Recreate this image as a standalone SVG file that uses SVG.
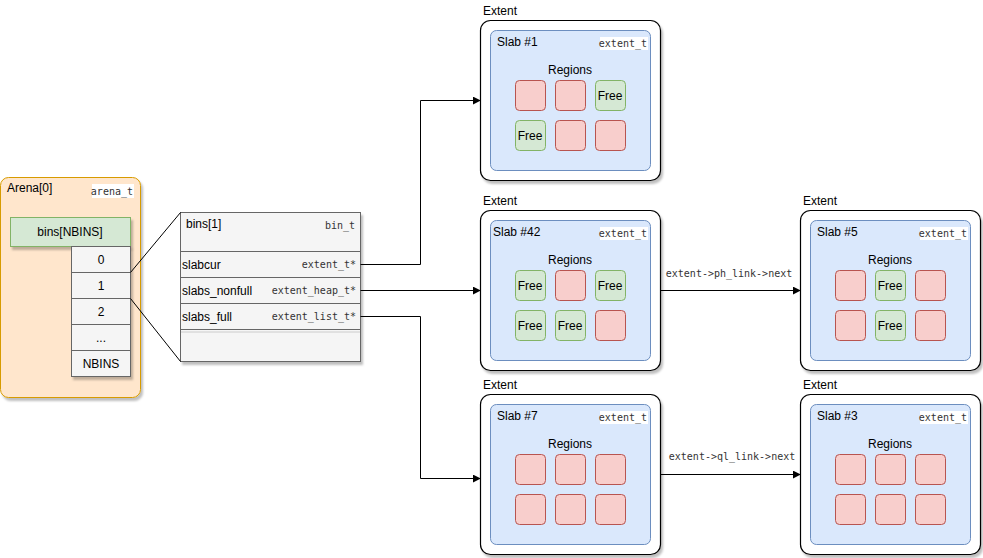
<svg xmlns="http://www.w3.org/2000/svg" width="983" height="558" viewBox="0 0 983 558">
<defs>
<filter id="sh" x="-10%" y="-10%" width="130%" height="130%">
<feDropShadow dx="2" dy="3" stdDeviation="1" flood-color="#000" flood-opacity="0.25"/>
</filter>
<marker id="arr" viewBox="0 0 10 10" refX="9" refY="5" markerWidth="8" markerHeight="8" markerUnits="userSpaceOnUse" orient="auto">
<path d="M0,0 L10,5 L0,10 Z" fill="#000"/>
</marker>
</defs>
<style>
text{font-family:"Liberation Sans",Arial,sans-serif;font-size:12px;fill:#000}
.mono{font-family:"DejaVu Sans Mono","Liberation Mono",monospace;font-size:10px;fill:#333}
.c{text-anchor:middle}
.e{text-anchor:end}
.ext{fill:#fff;stroke:#000;stroke-width:1.2}
.slab{fill:#dae8fc;stroke:#6c8ebf}
.used{fill:#f8cecc;stroke:#b85450}
.free{fill:#d5e8d4;stroke:#82b366}
.cell{fill:#f5f5f5;stroke:#666}
.lbl{fill:#fff}
.conn{fill:none;stroke:#000;stroke-width:1}
</style>
<rect width="983" height="558" fill="#fff"/>

<g id="arena">
<rect x="0.5" y="177.5" width="140" height="220" rx="8" fill="#ffe6cc" stroke="#d79b00" filter="url(#sh)"/>
<text x="7" y="192">Arena[0]</text>
<rect x="92" y="184" width="42" height="14" class="lbl"/>
<text x="133" y="195" class="mono e">arena_t</text>
<rect x="10.5" y="217.5" width="120" height="29" class="free" filter="url(#sh)"/>
<text x="70" y="236" class="c">bins[NBINS]</text>
<g filter="url(#sh)">
<rect x="71.5" y="246.5" width="59" height="26" class="cell"/>
<rect x="71.5" y="272.5" width="59" height="26" class="cell"/>
<rect x="71.5" y="298.5" width="59" height="26" class="cell"/>
<rect x="71.5" y="324.5" width="59" height="26" class="cell"/>
<rect x="71.5" y="350.5" width="59" height="26" class="cell"/>
</g>
<text x="101" y="264" class="c">0</text>
<text x="101" y="290" class="c">1</text>
<text x="101" y="316" class="c">2</text>
<text x="101" y="342" class="c">...</text>
<text x="101" y="368" class="c">NBINS</text>
</g>

<g id="bin1">
<rect x="180.5" y="212.5" width="180" height="149" class="cell" filter="url(#sh)"/>
<line x1="180.5" y1="251.5" x2="360.5" y2="251.5" stroke="#666"/>
<line x1="180.5" y1="277.5" x2="360.5" y2="277.5" stroke="#666"/>
<line x1="180.5" y1="303.5" x2="360.5" y2="303.5" stroke="#666"/>
<line x1="180.5" y1="329.5" x2="360.5" y2="329.5" stroke="#666"/>
<line x1="181" y1="332" x2="360" y2="332" stroke="#ccc"/>
<text x="186" y="228">bins[1]</text>
<text x="355" y="229" class="mono e">bin_t</text>
<text x="182" y="269">slabcur</text>
<text x="356" y="268" class="mono e">extent_t*</text>
<text x="182" y="295">slabs_nonfull</text>
<text x="356" y="294" class="mono e">extent_heap_t*</text>
<text x="182" y="321">slabs_full</text>
<text x="356" y="320" class="mono e">extent_list_t*</text>
</g>

<g id="extent1">
<text x="483" y="15">Extent</text>
<rect x="480.5" y="20.5" width="180" height="160" rx="10" class="ext" filter="url(#sh)"/>
<rect x="490.5" y="30.5" width="160" height="140" rx="6" class="slab"/>
<text x="497" y="46">Slab #1</text>
<rect x="600" y="37" width="48" height="13" class="lbl"/>
<text x="647" y="47" class="mono e">extent_t</text>
<text x="570" y="74" class="c">Regions</text>
<rect x="515.5" y="80.5" width="30" height="30" rx="4" class="used"/>
<rect x="555.5" y="80.5" width="30" height="30" rx="4" class="used"/>
<rect x="595.5" y="80.5" width="30" height="30" rx="4" class="free"/>
<text x="610" y="100" class="c">Free</text>
<rect x="515.5" y="120.5" width="30" height="30" rx="4" class="free"/>
<text x="530" y="140" class="c">Free</text>
<rect x="555.5" y="120.5" width="30" height="30" rx="4" class="used"/>
<rect x="595.5" y="120.5" width="30" height="30" rx="4" class="used"/>
</g>

<g id="extent42">
<text x="483" y="205">Extent</text>
<rect x="480.5" y="210.5" width="180" height="160" rx="10" class="ext" filter="url(#sh)"/>
<rect x="490.5" y="220.5" width="160" height="140" rx="6" class="slab"/>
<text x="493" y="236">Slab #42</text>
<rect x="600" y="227" width="48" height="13" class="lbl"/>
<text x="647" y="237" class="mono e">extent_t</text>
<text x="570" y="264" class="c">Regions</text>
<rect x="515.5" y="270.5" width="30" height="30" rx="4" class="free"/>
<text x="530" y="290" class="c">Free</text>
<rect x="555.5" y="270.5" width="30" height="30" rx="4" class="used"/>
<rect x="595.5" y="270.5" width="30" height="30" rx="4" class="free"/>
<text x="610" y="290" class="c">Free</text>
<rect x="515.5" y="310.5" width="30" height="30" rx="4" class="free"/>
<text x="530" y="330" class="c">Free</text>
<rect x="555.5" y="310.5" width="30" height="30" rx="4" class="free"/>
<text x="570" y="330" class="c">Free</text>
<rect x="595.5" y="310.5" width="30" height="30" rx="4" class="used"/>
</g>

<g id="extent7">
<text x="483" y="389">Extent</text>
<rect x="480.5" y="394.5" width="180" height="160" rx="10" class="ext" filter="url(#sh)"/>
<rect x="490.5" y="404.5" width="160" height="140" rx="6" class="slab"/>
<text x="497" y="420">Slab #7</text>
<rect x="600" y="411" width="48" height="13" class="lbl"/>
<text x="647" y="421" class="mono e">extent_t</text>
<text x="570" y="448" class="c">Regions</text>
<rect x="515.5" y="454.5" width="30" height="30" rx="4" class="used"/>
<rect x="555.5" y="454.5" width="30" height="30" rx="4" class="used"/>
<rect x="595.5" y="454.5" width="30" height="30" rx="4" class="used"/>
<rect x="515.5" y="494.5" width="30" height="30" rx="4" class="used"/>
<rect x="555.5" y="494.5" width="30" height="30" rx="4" class="used"/>
<rect x="595.5" y="494.5" width="30" height="30" rx="4" class="used"/>
</g>

<g id="extent5">
<text x="803" y="205">Extent</text>
<rect x="800.5" y="210.5" width="180" height="160" rx="10" class="ext" filter="url(#sh)"/>
<rect x="810.5" y="220.5" width="160" height="140" rx="6" class="slab"/>
<text x="817" y="236">Slab #5</text>
<rect x="920" y="227" width="48" height="13" class="lbl"/>
<text x="967" y="237" class="mono e">extent_t</text>
<text x="890" y="264" class="c">Regions</text>
<rect x="835.5" y="270.5" width="30" height="30" rx="4" class="used"/>
<rect x="875.5" y="270.5" width="30" height="30" rx="4" class="free"/>
<text x="890" y="290" class="c">Free</text>
<rect x="915.5" y="270.5" width="30" height="30" rx="4" class="used"/>
<rect x="835.5" y="310.5" width="30" height="30" rx="4" class="used"/>
<rect x="875.5" y="310.5" width="30" height="30" rx="4" class="free"/>
<text x="890" y="330" class="c">Free</text>
<rect x="915.5" y="310.5" width="30" height="30" rx="4" class="used"/>
</g>

<g id="extent3">
<text x="803" y="389">Extent</text>
<rect x="800.5" y="394.5" width="180" height="160" rx="10" class="ext" filter="url(#sh)"/>
<rect x="810.5" y="404.5" width="160" height="140" rx="6" class="slab"/>
<text x="817" y="420">Slab #3</text>
<rect x="920" y="411" width="48" height="13" class="lbl"/>
<text x="967" y="421" class="mono e">extent_t</text>
<text x="890" y="448" class="c">Regions</text>
<rect x="835.5" y="454.5" width="30" height="30" rx="4" class="used"/>
<rect x="875.5" y="454.5" width="30" height="30" rx="4" class="used"/>
<rect x="915.5" y="454.5" width="30" height="30" rx="4" class="used"/>
<rect x="835.5" y="494.5" width="30" height="30" rx="4" class="used"/>
<rect x="875.5" y="494.5" width="30" height="30" rx="4" class="used"/>
<rect x="915.5" y="494.5" width="30" height="30" rx="4" class="used"/>
</g>

<g id="connectors">
<line x1="130.5" y1="272.5" x2="180.5" y2="212.5" class="conn"/>
<line x1="130.5" y1="298.5" x2="180.5" y2="361.5" class="conn"/>
<path d="M360.5,264.5 H420.5 V100.5 H480" class="conn" marker-end="url(#arr)"/>
<path d="M360.5,290.5 H480" class="conn" marker-end="url(#arr)"/>
<path d="M360.5,316.5 H420.5 V478.5 H480" class="conn" marker-end="url(#arr)"/>
<path d="M660.5,290.5 H800" class="conn" marker-end="url(#arr)"/>
<text x="729" y="277" class="mono c">extent-&gt;ph_link-&gt;next</text>
<path d="M660.5,474.5 H800" class="conn" marker-end="url(#arr)"/>
<text x="732" y="460" class="mono c">extent-&gt;ql_link-&gt;next</text>
</g>
</svg>
